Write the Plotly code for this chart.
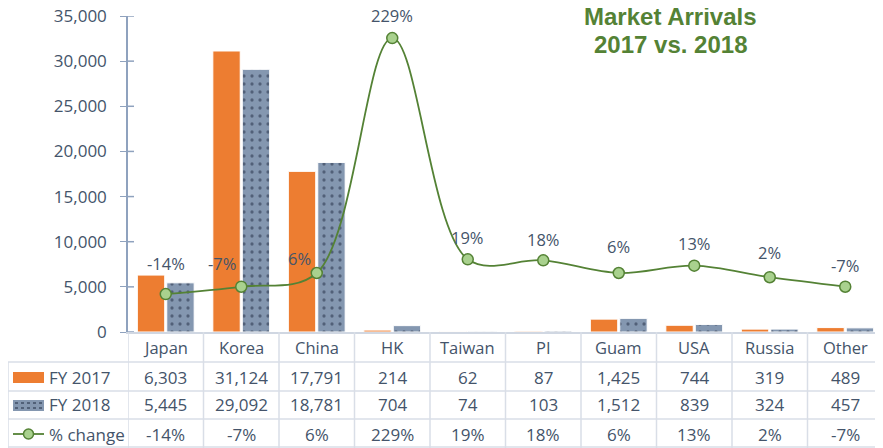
import plotly.graph_objects as go

categories = ['Japan', 'Korea', 'China', 'HK', 'Taiwan', 'PI', 'Guam', 'USA', 'Russia', 'Other']
fy2017 = [6303, 31124, 17791, 214, 62, 87, 1425, 744, 319, 489]
fy2018 = [5445, 29092, 18781, 704, 74, 103, 1512, 839, 324, 457]
pct_change = [-0.14, -0.07, 0.06, 2.29, 0.19, 0.18, 0.06, 0.13, 0.02, -0.07]
series_names = ['FY 2017', 'FY 2018', '% change']
y_ticks = [0, 5000, 10000, 15000, 20000, 25000, 30000, 35000]

# style: offsets (px) of each % data label from its marker
label_yshift = [31, 23, 15, 23, 22, 21, 27, 22, 25, 21]
label_xshift = [0, -19, -17, 0, 0, 0, 0, 0, 0, 0]

# page body has an 8px margin; lay out in window pixel coordinates
OFF = 8
WIN_W, WIN_H = 883, 448
W, H = WIN_W - OFF, WIN_H - OFF
PL, PR, PT, PB = 128, 883, 16, 332          # plot area in window pixels
ML, MR, MT, MB = PL - OFF, WIN_W - PR, PT - OFF, WIN_H - PB
PW, PH = PR - PL, PB - PT

def px_x(x):
    return (x - PL) / PW

def px_y(y):
    return (PB - y) / PH

TXT = '#44546A'
GRID = '#D9DEE7'
AXIS = '#8FA2BE'
ORANGE = '#ED7D31'
BLUE = '#8497B0'
GREEN = '#548235'
LGREEN = '#A9D18E'
FONT = 'Open Sans, Noto Sans, sans-serif'
TFONT = 'Liberation Sans, Arial, sans-serif'

fig = go.Figure()
fig.add_trace(go.Bar(x=categories, y=fy2017, name=series_names[0],
                     marker=dict(color=ORANGE, line=dict(color='white', width=1))))
fig.add_trace(go.Bar(x=categories, y=fy2018, name=series_names[1],
                     marker=dict(color=BLUE, line=dict(color='white', width=1),
                                 pattern=dict(shape='.', fgcolor='#1E2A40', size=8,
                                              solidity=0.13, fillmode='overlay'))))
fig.add_trace(go.Scatter(x=categories, y=pct_change, name=series_names[2], yaxis='y2',
                         mode='lines+markers',
                         line=dict(color=GREEN, width=1.8, shape='spline', smoothing=1),
                         marker=dict(size=11, color=LGREEN, line=dict(color=GREEN, width=1.5))))

ann = []
# line data labels
for c, p, sy, sx in zip(categories, pct_change, label_yshift, label_xshift):
    ann.append(dict(x=c, y=p, xref='x', yref='y2', text=f"{p:.0%}", showarrow=False,
                    xanchor='center', yanchor='middle', xshift=sx,
                    yshift=sy, font=dict(family=FONT, size=16.5, color=TXT)))

# table rows
row_y = [347, 377, 405, 434]
for c in categories:
    ann.append(dict(x=c, y=px_y(row_y[0]), xref='x', yref='paper', text=c, showarrow=False,
                    xanchor='center', yanchor='middle',
                    font=dict(family=FONT, size=16.5, color=TXT)))
for c, a, b, p in zip(categories, fy2017, fy2018, pct_change):
    for val, ry in ((f"{a:,}", row_y[1]), (f"{b:,}", row_y[2]), (f"{p:.0%}", row_y[3])):
        ann.append(dict(x=c, y=px_y(ry), xref='x', yref='paper', text=val, showarrow=False,
                        xanchor='center', yanchor='middle',
                        font=dict(family=FONT, size=17, color=TXT)))
for name, ry in zip(series_names, row_y[1:]):
    ann.append(dict(x=px_x(47), y=px_y(ry), xref='paper', yref='paper', text=name,
                    showarrow=False, xanchor='left', yanchor='middle',
                    font=dict(family=FONT, size=17, color=TXT)))

# title
ann.append(dict(x=px_x(670), y=px_y(16), xref='paper', yref='paper', text='<b>Market Arrivals</b>',
                showarrow=False, xanchor='center', yanchor='middle',
                font=dict(family=TFONT, size=24, color=GREEN)))
ann.append(dict(x=px_x(670), y=px_y(44), xref='paper', yref='paper', text='<b>2017 vs. 2018</b>',
                showarrow=False, xanchor='center', yanchor='middle',
                font=dict(family=TFONT, size=24, color=GREEN)))

shapes = []
# inner half of the crossing y-axis ticks
for t in y_ticks:
    shapes.append(dict(type='line', xref='paper', yref='y', x0=0, x1=px_x(134),
                       y0=t, y1=t, line=dict(color=AXIS, width=1.5)))
# horizontal table lines
for yy in (362, 391, 419, 447):
    shapes.append(dict(type='line', xref='paper', yref='paper', x0=px_x(8), x1=1,
                       y0=px_y(yy), y1=px_y(yy), line=dict(color=GRID, width=1.5)))
# vertical lines
n = len(categories)
for i in range(n + 1):
    shapes.append(dict(type='line', xref='x', yref='paper', x0=i - 0.5, x1=i - 0.5,
                       y0=0, y1=px_y(448), line=dict(color=GRID, width=1.5)))
shapes.append(dict(type='line', xref='paper', yref='paper', x0=px_x(8), x1=px_x(8),
                   y0=px_y(362), y1=px_y(448), line=dict(color=GRID, width=1.5)))
# legend keys
shapes.append(dict(type='rect', xref='paper', yref='paper', x0=px_x(13), x1=px_x(44),
                   y0=px_y(383), y1=px_y(372), fillcolor=ORANGE, line=dict(width=0)))
shapes.append(dict(type='rect', xref='paper', yref='paper', x0=px_x(13), x1=px_x(44),
                   y0=px_y(411), y1=px_y(400), fillcolor=BLUE, line=dict(width=0)))
for yy in (403, 408):
    shapes.append(dict(type='line', xref='paper', yref='paper', x0=px_x(15), x1=px_x(44),
                       y0=px_y(yy), y1=px_y(yy), line=dict(color='#1E2A40', width=1, dash='dot')))
shapes.append(dict(type='line', xref='paper', yref='paper', x0=px_x(13), x1=px_x(44),
                   y0=px_y(434), y1=px_y(434), line=dict(color=GREEN, width=1.8)))
shapes.append(dict(type='circle', xref='paper', yref='paper', x0=px_x(23.5), x1=px_x(33.5),
                   y0=px_y(439), y1=px_y(429), fillcolor=LGREEN, line=dict(color=GREEN, width=1.5)))

fig.update_layout(
    width=W, height=H, margin=dict(l=ML, r=MR, t=MT, b=MB, autoexpand=False),
    paper_bgcolor='white', plot_bgcolor='white', showlegend=False,
    barmode='group', bargap=0.22, bargroupgap=0.07,
    font=dict(family=FONT, size=16, color=TXT),
    xaxis=dict(showticklabels=False, showgrid=False, showline=True, linecolor='#D0D7E2',
               linewidth=1.5, ticks='', range=[-0.5, n - 0.5], zeroline=False),
    yaxis=dict(range=[0, 35000], tickvals=y_ticks, tickformat=',', showgrid=False,
               showline=True, linecolor=AXIS, linewidth=1.5, ticks='outside',
               tickcolor=AXIS, ticklen=6, ticklabelstandoff=10, zeroline=False,
               ticklabeloverflow='allow',
               tickfont=dict(family=FONT, size=17, color=TXT)),
    yaxis2=dict(range=[-0.5, 2.5], overlaying='y', visible=False, showgrid=False),
    annotations=ann, shapes=shapes,
)

fig.write_html('out.html')
